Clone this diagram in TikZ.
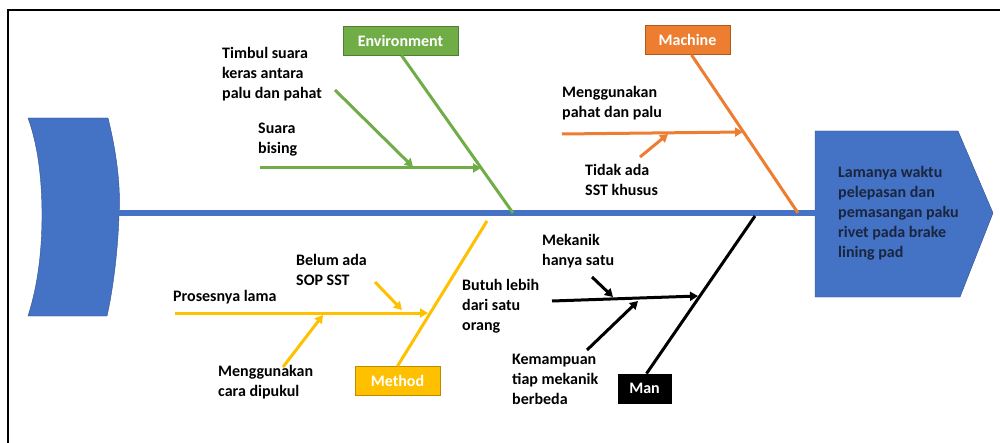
\documentclass[tikz,border=0pt]{standalone}
\usepackage{fontspec}
\setmainfont{Carlito}[BoldFont={Carlito Bold}, BoldFeatures={FakeBold=0}]
\usetikzlibrary{positioning,arrows.meta}
\definecolor{fishblue}{HTML}{4472C4}
\definecolor{envgreen}{HTML}{70AD47}
\definecolor{envgreenD}{HTML}{507E32}
\definecolor{macorange}{HTML}{ED7D31}
\definecolor{macorangeD}{HTML}{AE5A21}
\definecolor{metgold}{HTML}{FFC000}
\definecolor{metgoldD}{HTML}{BC8C00}
\definecolor{headtxt}{HTML}{1A2540}

\begin{document}
\begin{tikzpicture}[x=1pt, y=-1pt, >={Triangle[length=8pt,width=9pt]}, every node/.style={font=\fontsize{16}{20}\selectfont\bfseries}]
\tikzset{
  cat/.style={draw, thick, minimum height=29pt, inner sep=0pt, text=white},
  lbl/.style={align=left, anchor=west, inner sep=0pt},
  bone/.style={line width=3pt},
  sub/.style={line width=3pt, ->}
}
\useasboundingbox (0,0) rectangle (1000,443);
\draw[line width=2pt] (8,443) -- (8,10) -- (1000,10);
\fill[fishblue, draw=fishblue!70!black, thin] (28,118) -- (108,118)
  .. controls (116,150) and (121,185) .. (119,215)
  .. controls (118,250) and (113,290) .. (107,316) -- (28,316)
  .. controls (38,285) and (42,250) .. (42,215)
  .. controls (42,180) and (38,145) .. (28,118) -- cycle;
\fill[fishblue, draw=fishblue!70!black, thin] (815,131) -- (958,131) -- (993,213) -- (960,297) -- (815,297) -- cycle;
\coordinate (tail) at (117,213);
\coordinate (head) at (816,213);
\draw[fishblue, line width=6pt] (tail) -- (head);
\node[lbl, text=headtxt] (Goal) at (838,213) {Lamanya waktu\\pelepasan dan\\pemasangan paku\\rivet pada brake\\lining pad};
\node[cat, fill=envgreen, draw=envgreenD, minimum width=115pt] (Env) at (400.5,40.5) {Environment};
\node[cat, fill=macorange, draw=macorangeD, minimum width=85pt] (Mac) at (687.5,40) {Machine};
\node[cat, fill=metgold, draw=metgoldD, minimum width=85pt] (Met) at (397.5,381) {Method};
\node[cat, fill=black, draw=black, minimum width=53pt] (Man) at (644.5,388.5) {Man};
\coordinate (envS) at (513,213);
\coordinate (macS) at (798,213);
\coordinate (metS) at (487,221);
\coordinate (manS) at (755,216);
\draw[bone, envgreen] ([xshift=1pt]Env.south) -- (envS);
\draw[bone, macorange] ([xshift=4pt]Mac.south) -- (macS);
\draw[bone, metgold] (Met.north) -- (metS);
\draw[bone, black] ([xshift=2pt]Man.north) -- (manS);
\node[lbl] (tEnv1) at (222,74.5) {Timbul suara\\keras antara\\palu dan pahat};
\node[lbl] (tEnv2) at (258,140) {Suara\\bising};
\node[lbl] (tMac1) at (562,103) {Menggunakan\\pahat dan palu};
\node[lbl] (tMac2) at (585,180) {Tidak ada\\SST khusus};
\node[lbl] (tMet1) at (173,297) {Prosesnya lama};
\node[lbl] (tMet2) at (296,269.5) {Belum ada\\SOP SST};
\node[lbl] (tMet3) at (218,382.5) {Menggunakan\\cara dipukul};
\node[lbl] (tMan1) at (542,251) {Mekanik\\hanya satu};
\node[lbl] (tMan2) at (462,306) {Butuh lebih\\dari satu\\orang};
\node[lbl] (tMan3) at (512,379.5) {Kemampuan\\tiap mekanik\\berbeda};
\coordinate (e1a) at (260,168);
\coordinate (e1b) at (481,168);
\coordinate (e2a) at (335,90);
\coordinate (e2b) at (413,167);
\draw[sub, envgreen] (e1a) -- (e1b);
\draw[sub, envgreen] (e2a) -- (e2b);
\coordinate (m1a) at (562,134);
\coordinate (m1b) at (743,132);
\coordinate (m2a) at (640,157);
\coordinate (m2b) at (668,134);
\draw[sub, macorange] (m1a) -- (m1b);
\draw[sub, macorange] (m2a) -- (m2b);
\coordinate (p1a) at (175,313);
\coordinate (p1b) at (428,313);
\coordinate (p2a) at (375,282);
\coordinate (p2b) at (402,310);
\coordinate (p3a) at (283,367);
\coordinate (p3b) at (323,315);
\draw[sub, metgold] (p1a) -- (p1b);
\draw[sub, metgold] (p2a) -- (p2b);
\draw[sub, metgold] (p3a) -- (p3b);
\coordinate (h1a) at (552,301);
\coordinate (h1b) at (698,296);
\coordinate (h2a) at (592,277);
\coordinate (h2b) at (613,297);
\coordinate (h3a) at (587,350);
\coordinate (h3b) at (638,301);
\draw[sub, black] (h1a) -- (h1b);
\draw[sub, black] (h2a) -- (h2b);
\draw[sub, black] (h3a) -- (h3b);
\end{tikzpicture}
\end{document}
